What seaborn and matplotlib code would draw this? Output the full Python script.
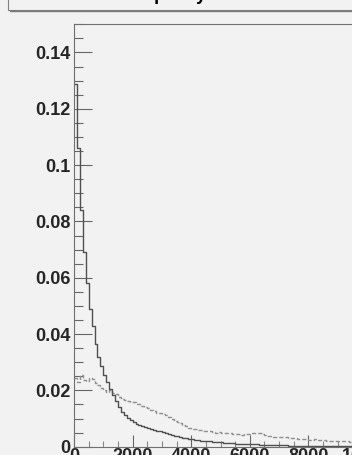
import numpy as np
import pandas as pd
import matplotlib
matplotlib.use("Agg")
import matplotlib.pyplot as plt
import matplotlib.ticker as mticker
from matplotlib.patches import Rectangle
from matplotlib.lines import Line2D
import seaborn as sns

# --- dades llegides de la figura (amplada de bin = 100) ---
BIN_WIDTH = 100
X_MAX = 10000

# histograma continu (fosc)
solid_vals = [
    0.1287, 0.1060, 0.0840, 0.0690, 0.0580, 0.0490, 0.0430, 0.0364, 0.0320, 0.0285,
    0.0255, 0.0228, 0.0205, 0.0183, 0.0162, 0.0142, 0.0125, 0.0113, 0.0103, 0.0095,
    0.0088, 0.0082, 0.0077, 0.0073, 0.0069, 0.0065, 0.0062, 0.0059, 0.0057, 0.0054,
    0.0052, 0.0049, 0.0046, 0.0042, 0.0039, 0.0037, 0.0034, 0.0032, 0.0030, 0.0029,
    0.0027, 0.0025, 0.0024, 0.0022, 0.0021, 0.0020, 0.0019, 0.0018, 0.0017, 0.0016,
    0.0015, 0.0014, 0.0013, 0.0013, 0.0012, 0.0011, 0.0011, 0.0010, 0.0010, 0.0009,
    0.0009, 0.0008, 0.0008, 0.0007, 0.0007, 0.0007, 0.0006, 0.0006, 0.0006, 0.0005,
    0.0005, 0.0005, 0.0005, 0.0004, 0.0004, 0.0004, 0.0004, 0.0003, 0.0003, 0.0003,
    0.0003, 0.0003, 0.0003, 0.0003, 0.0002, 0.0003, 0.0002, 0.0002, 0.0002, 0.0002,
    0.0002, 0.0002, 0.0002, 0.0002, 0.0002, 0.0002, 0.0002, 0.0001, 0.0002, 0.0001,
]

# histograma discontinu (clar)
dashed_vals = [
    0.0243, 0.0230, 0.0255, 0.0238, 0.0232, 0.0245, 0.0240, 0.0225, 0.0218, 0.0210,
    0.0200, 0.0195, 0.0200, 0.0192, 0.0186, 0.0175, 0.0170, 0.0166, 0.0162, 0.0160,
    0.0157, 0.0153, 0.0150, 0.0145, 0.0141, 0.0137, 0.0130, 0.0126, 0.0121, 0.0119,
    0.0115, 0.0111, 0.0105, 0.0098, 0.0092, 0.0088, 0.0083, 0.0078, 0.0073, 0.0068,
    0.0064, 0.0063, 0.0060, 0.0058, 0.0056, 0.0054, 0.0055, 0.0052, 0.0050, 0.0051,
    0.0049, 0.0048, 0.0049, 0.0047, 0.0046, 0.0045, 0.0044, 0.0043, 0.0044, 0.0046,
    0.0048, 0.0050, 0.0049, 0.0047, 0.0044, 0.0041, 0.0039, 0.0037, 0.0036, 0.0035,
    0.0034, 0.0034, 0.0033, 0.0032, 0.0031, 0.0030, 0.0028, 0.0027, 0.0028, 0.0026,
    0.0025, 0.0025, 0.0026, 0.0024, 0.0023, 0.0024, 0.0022, 0.0021, 0.0022, 0.0020,
    0.0021, 0.0019, 0.0020, 0.0019, 0.0018, 0.0019, 0.0018, 0.0017, 0.0018, 0.0017,
]

x_ticks = [0, 2000, 4000, 6000, 8000, 10000]
x_tick_labels = ["0", "2000", "4000", "6000", "8000", "10000"]
y_ticks = [0, 0.02, 0.04, 0.06, 0.08, 0.10, 0.12, 0.14]
y_tick_labels = ["0", "0.02", "0.04", "0.06", "0.08", "0.1", "0.12", "0.14"]

titol = "Neutron multiplicity for all events"

BG = "#f2f2f2"


def main():
    sns.set_style("ticks")
    plt.rcParams["font.family"] = ["Liberation Sans", "DejaVu Sans"]

    centres = np.arange(len(solid_vals)) * BIN_WIDTH + BIN_WIDTH / 2
    df = pd.DataFrame({"x": centres, "solid": solid_vals, "dashed": dashed_vals})

    fig = plt.figure(figsize=(3.52, 4.55), dpi=100, facecolor=BG)
    W, H = 352, 455
    # eix: x=74 px a l'esquerra, 0 a y=446.7, 0.15 a y=24.3; l'eix surt per la dreta
    ax = fig.add_axes([74 / W, (H - 446.7) / H, 293 / W, (446.7 - 24.3) / H])
    ax.set_facecolor(BG)

    sns.histplot(data=df, x="x", weights="dashed", binwidth=BIN_WIDTH,
                 binrange=(0, X_MAX), element="step", fill=False,
                 color="#8f8f8f", linewidth=1.0, linestyle=(0, (3, 1.5)), ax=ax)
    sns.histplot(data=df, x="x", weights="solid", binwidth=BIN_WIDTH,
                 binrange=(0, X_MAX), element="step", fill=False,
                 color="#505050", linewidth=1.0, ax=ax)

    ax.set_xlim(0, X_MAX)
    ax.set_ylim(0, 0.15)
    ax.set_xlabel("")
    ax.set_ylabel("")

    ax.set_xticks(x_ticks)
    ax.set_xticklabels(x_tick_labels)
    ax.set_yticks(y_ticks)
    ax.set_yticklabels(y_tick_labels)
    ax.xaxis.set_minor_locator(mticker.MultipleLocator(500))
    ax.yaxis.set_minor_locator(mticker.MultipleLocator(0.005))

    ax.tick_params(axis="y", which="major", direction="in", length=12.7, width=0.8,
                   color="#666666", pad=2.7, labelsize=13)
    ax.tick_params(axis="y", which="minor", direction="in", length=6.3, width=0.8,
                   color="#666666")
    ax.tick_params(axis="x", which="major", direction="in", length=8.4, width=0.8,
                   color="#666666", pad=1.2, labelsize=13)
    ax.tick_params(axis="x", which="minor", direction="in", length=4.3, width=0.8,
                   color="#888888")
    for lab in ax.get_xticklabels() + ax.get_yticklabels():
        lab.set_fontweight("bold")

    for side in ["left", "bottom", "top", "right"]:
        ax.spines[side].set_color("#707070")
        ax.spines[side].set_linewidth(0.8)

    # caixa del títol (tallada per dalt)
    box = Rectangle((8.3 / W, (H - 9.5) / H), 1.0, 0.2, transform=fig.transFigure,
                    facecolor=BG, edgecolor="#808080", linewidth=0.8)
    fig.patches.append(box)
    fig.lines.append(Line2D([9.5 / W, 1.0], [(H - 10.5) / H, (H - 10.5) / H],
                            transform=fig.transFigure, color="#7a7a7a", linewidth=1.0))
    fig.text(180 / W, (H - 0.2) / H, titol, ha="center", va="baseline",
             fontsize=13, fontweight="bold", color="black")

    fig.savefig("out.png", dpi=100, facecolor=BG)


if __name__ == "__main__":
    main()
